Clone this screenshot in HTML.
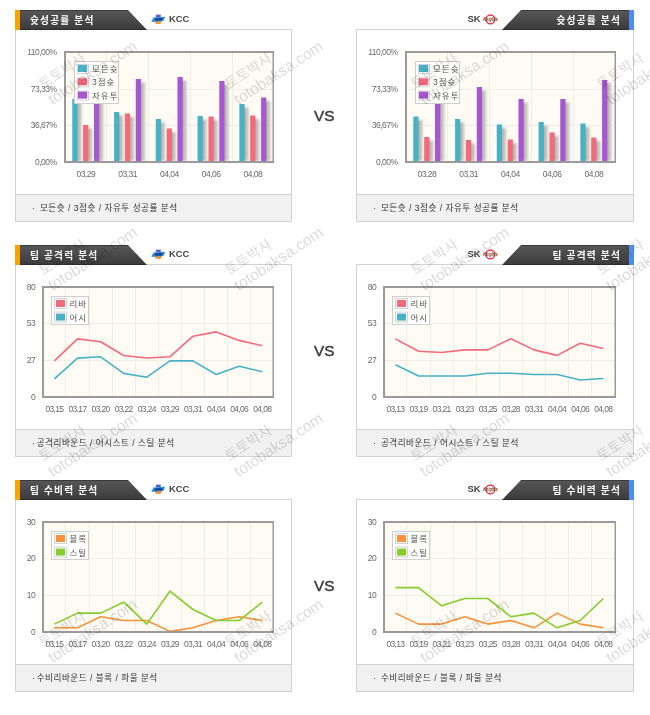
<!DOCTYPE html>
<html lang="ko"><head><meta charset="utf-8"><title>Team analysis</title>
<style>
*{margin:0;padding:0;box-sizing:border-box}
html,body{width:650px;height:715px;overflow:hidden;background:#fff}
body{position:relative;font-family:"Liberation Sans", "Noto Sans CJK KR", sans-serif}
.panel{position:absolute;height:193px;border:1px solid #d2d2d2;background:#fff}
.foot{position:absolute;height:28px;border:1px solid #d2d2d2;background:#f1f1f1}
.foot span{position:absolute;top:6px;font-size:8.6px;color:#333;white-space:nowrap;line-height:14px;letter-spacing:0.5px}
.tab{position:absolute;height:20px;background:linear-gradient(#3a3a3a 0,#3a3a3a 1px,#565656 1px,#3c3c3c 19px,#2c2c2c 19px)}
.stripe{position:absolute;width:5px;height:20px}
.ttl{position:absolute;height:20px;line-height:22px;color:#fff;font-weight:bold;font-size:9.7px;white-space:nowrap;letter-spacing:1.2px}
.team{position:absolute;font-family:"Liberation Sans", sans-serif;font-weight:bold;font-size:9.4px;color:#454545;line-height:12px}
.vs{position:absolute;font-family:"Liberation Sans", sans-serif;font-size:15.3px;color:#3a3a3a;line-height:17px;-webkit-text-stroke:0.45px #3a3a3a}
svg{position:absolute;left:0;top:0}
.ax{font-family:"Liberation Sans", sans-serif;font-size:8.5px;fill:#6a6a6a;letter-spacing:-0.5px}
.ax2{font-family:"Liberation Sans", sans-serif;font-size:8.5px;fill:#6a6a6a;letter-spacing:-0.65px}
.lg{font-family:"Liberation Sans", "Noto Sans CJK KR", sans-serif;font-size:8.5px;fill:#555;letter-spacing:1px}
.wk{font-family:"Liberation Sans", "Noto Sans CJK KR", sans-serif;font-size:14.3px;fill:#000;fill-opacity:0.15}
.wl{font-family:"Liberation Sans", sans-serif;font-size:15.8px;fill:#000;fill-opacity:0.15}
</style></head>
<body>
<div class="panel" style="left:15px;top:29px;width:277px;"></div><div class="foot" style="left:15px;top:194px;width:277px;"><span class="bul" style="left:16px">·</span><span style="left:23.9px">모든슛 / 3점슛 / 자유투 성공률 분석</span></div><div class="panel" style="left:356px;top:29px;width:278px;"></div><div class="foot" style="left:356px;top:194px;width:278px;"><span class="bul" style="left:16px">·</span><span style="left:23.9px">모든슛 / 3점슛 / 자유투 성공률 분석</span></div><div class="tab" style="left:15px;top:10px;clip-path:polygon(0 0,113px 0,132px 100%,0 100%);width:132px"></div><div class="stripe" style="left:15px;top:10px;background:#f8a300"></div><div class="ttl" style="left:30px;top:10px">슛성공률 분석</div><div class="tab" style="left:502px;top:10px;clip-path:polygon(19px 0,100% 0,100% 100%,0 100%);width:132px"></div><div class="stripe" style="left:629px;top:10px;background:#4d8ef2"></div><div class="ttl" style="right:29px;top:10px;text-align:right">슛성공률 분석</div><div class="team" style="left:169px;top:13.3px">KCC</div><div class="team" style="left:467.5px;top:13.3px">SK</div><div class="vs" style="left:314px;top:107.3px">VS</div><div class="panel" style="left:15px;top:264px;width:277px;"></div><div class="foot" style="left:15px;top:429px;width:277px;"><span class="bul" style="left:16px">·</span><span style="left:20.7px">공격리바운드 / 어시스트 / 스틸 분석</span></div><div class="panel" style="left:356px;top:264px;width:278px;"></div><div class="foot" style="left:356px;top:429px;width:278px;"><span class="bul" style="left:16px">·</span><span style="left:23.9px">공격리바운드 / 어시스트 / 스틸 분석</span></div><div class="tab" style="left:15px;top:245px;clip-path:polygon(0 0,113px 0,132px 100%,0 100%);width:132px"></div><div class="stripe" style="left:15px;top:245px;background:#f8a300"></div><div class="ttl" style="left:30px;top:245px">팀 공격력 분석</div><div class="tab" style="left:502px;top:245px;clip-path:polygon(19px 0,100% 0,100% 100%,0 100%);width:132px"></div><div class="stripe" style="left:629px;top:245px;background:#4d8ef2"></div><div class="ttl" style="right:29px;top:245px;text-align:right">팀 공격력 분석</div><div class="team" style="left:169px;top:248.3px">KCC</div><div class="team" style="left:467.5px;top:248.3px">SK</div><div class="vs" style="left:314px;top:342.3px">VS</div><div class="panel" style="left:15px;top:499px;width:277px;"></div><div class="foot" style="left:15px;top:664px;width:277px;"><span class="bul" style="left:16px">·</span><span style="left:20.7px">수비리바운드 / 블록 / 파울 분석</span></div><div class="panel" style="left:356px;top:499px;width:278px;"></div><div class="foot" style="left:356px;top:664px;width:278px;"><span class="bul" style="left:16px">·</span><span style="left:23.9px">수비리바운드 / 블록 / 파울 분석</span></div><div class="tab" style="left:15px;top:480px;clip-path:polygon(0 0,113px 0,132px 100%,0 100%);width:132px"></div><div class="stripe" style="left:15px;top:480px;background:#f8a300"></div><div class="ttl" style="left:30px;top:480px">팀 수비력 분석</div><div class="tab" style="left:502px;top:480px;clip-path:polygon(19px 0,100% 0,100% 100%,0 100%);width:132px"></div><div class="stripe" style="left:629px;top:480px;background:#4d8ef2"></div><div class="ttl" style="right:29px;top:480px;text-align:right">팀 수비력 분석</div><div class="team" style="left:169px;top:483.3px">KCC</div><div class="team" style="left:467.5px;top:483.3px">SK</div><div class="vs" style="left:314px;top:577.3px">VS</div>
<svg width="650" height="715" viewBox="0 0 650 715">
<g transform="translate(0,0)"><ellipse cx="158.3" cy="21.4" rx="3.5" ry="2.6" fill="#f39a3c"/><rect x="155.9" y="14.7" width="5" height="2.7" fill="#5b5ccf" stroke="#c9c9f0" stroke-width="0.4"/><polygon points="151.3,22.0 153.4,17.4 165.3,16.8 163.4,21.0" fill="#2a8fd6"/><polygon points="154.6,20.8 155.3,18.3 162.6,18.0 161.9,20.5" fill="#1c4596"/></g><g transform="translate(0,0)"><circle cx="490.4" cy="19.4" r="4.4" fill="none" stroke="#e8344f" stroke-width="1.5"/><text x="483.3" y="21.4" font-family=""Liberation Sans", sans-serif" font-style="italic" font-weight="bold" font-size="6.2" fill="#6e3c14" textLength="14.5" lengthAdjust="spacingAndGlyphs">Knights</text></g><g transform="translate(0,235)"><ellipse cx="158.3" cy="21.4" rx="3.5" ry="2.6" fill="#f39a3c"/><rect x="155.9" y="14.7" width="5" height="2.7" fill="#5b5ccf" stroke="#c9c9f0" stroke-width="0.4"/><polygon points="151.3,22.0 153.4,17.4 165.3,16.8 163.4,21.0" fill="#2a8fd6"/><polygon points="154.6,20.8 155.3,18.3 162.6,18.0 161.9,20.5" fill="#1c4596"/></g><g transform="translate(0,235)"><circle cx="490.4" cy="19.4" r="4.4" fill="none" stroke="#e8344f" stroke-width="1.5"/><text x="483.3" y="21.4" font-family=""Liberation Sans", sans-serif" font-style="italic" font-weight="bold" font-size="6.2" fill="#6e3c14" textLength="14.5" lengthAdjust="spacingAndGlyphs">Knights</text></g><g transform="translate(0,470)"><ellipse cx="158.3" cy="21.4" rx="3.5" ry="2.6" fill="#f39a3c"/><rect x="155.9" y="14.7" width="5" height="2.7" fill="#5b5ccf" stroke="#c9c9f0" stroke-width="0.4"/><polygon points="151.3,22.0 153.4,17.4 165.3,16.8 163.4,21.0" fill="#2a8fd6"/><polygon points="154.6,20.8 155.3,18.3 162.6,18.0 161.9,20.5" fill="#1c4596"/></g><g transform="translate(0,470)"><circle cx="490.4" cy="19.4" r="4.4" fill="none" stroke="#e8344f" stroke-width="1.5"/><text x="483.3" y="21.4" font-family=""Liberation Sans", sans-serif" font-style="italic" font-weight="bold" font-size="6.2" fill="#6e3c14" textLength="14.5" lengthAdjust="spacingAndGlyphs">Knights</text></g><defs><linearGradient id="sh" x1="0" x2="1" y1="0" y2="0"><stop offset="0" stop-color="#8f8d86"/><stop offset="1" stop-color="#d8d6cf"/></linearGradient><filter id="bl" x="-100%" y="-20%" width="300%" height="140%"><feGaussianBlur stdDeviation="1.1"/></filter></defs><rect x="64" y="51" width="210" height="112" fill="#fdfbf3"/><line x1="106.5" y1="53" x2="106.5" y2="161" stroke="#f0ede4" stroke-width="1"/><line x1="148.5" y1="53" x2="148.5" y2="161" stroke="#f0ede4" stroke-width="1"/><line x1="190.5" y1="53" x2="190.5" y2="161" stroke="#f0ede4" stroke-width="1"/><line x1="232.5" y1="53" x2="232.5" y2="161" stroke="#f0ede4" stroke-width="1"/><line x1="66" y1="89.5" x2="272" y2="89.5" stroke="#f0ede4" stroke-width="1"/><line x1="66" y1="125.5" x2="272" y2="125.5" stroke="#f0ede4" stroke-width="1"/><rect x="73.8" y="102.5" width="8" height="58.5" fill="url(#sh)" filter="url(#bl)"/><rect x="72.3" y="99.0" width="5.2" height="62.0" fill="#48b1c5"/><rect x="84.6" y="128.5" width="8" height="32.5" fill="url(#sh)" filter="url(#bl)"/><rect x="83.1" y="125.0" width="5.2" height="36.0" fill="#f26a7b"/><rect x="95.5" y="78.5" width="8" height="82.5" fill="url(#sh)" filter="url(#bl)"/><rect x="94.0" y="75.0" width="5.2" height="86.0" fill="#a757d1"/><text x="85.8" y="177.2" text-anchor="middle" class="ax">03,29</text><rect x="115.6" y="115.5" width="8" height="45.5" fill="url(#sh)" filter="url(#bl)"/><rect x="114.1" y="112.0" width="5.2" height="49.0" fill="#48b1c5"/><rect x="126.4" y="117.0" width="8" height="44.0" fill="url(#sh)" filter="url(#bl)"/><rect x="124.9" y="113.5" width="5.2" height="47.5" fill="#f26a7b"/><rect x="137.3" y="82.5" width="8" height="78.5" fill="url(#sh)" filter="url(#bl)"/><rect x="135.8" y="79.0" width="5.2" height="82.0" fill="#a757d1"/><text x="127.6" y="177.2" text-anchor="middle" class="ax">03,31</text><rect x="157.3" y="122.5" width="8" height="38.5" fill="url(#sh)" filter="url(#bl)"/><rect x="155.8" y="119.0" width="5.2" height="42.0" fill="#48b1c5"/><rect x="168.2" y="132.0" width="8" height="29.0" fill="url(#sh)" filter="url(#bl)"/><rect x="166.7" y="128.5" width="5.2" height="32.5" fill="#f26a7b"/><rect x="179.0" y="80.5" width="8" height="80.5" fill="url(#sh)" filter="url(#bl)"/><rect x="177.5" y="77.0" width="5.2" height="84.0" fill="#a757d1"/><text x="169.4" y="177.2" text-anchor="middle" class="ax">04,04</text><rect x="199.1" y="119.5" width="8" height="41.5" fill="url(#sh)" filter="url(#bl)"/><rect x="197.6" y="116.0" width="5.2" height="45.0" fill="#48b1c5"/><rect x="210.0" y="120.0" width="8" height="41.0" fill="url(#sh)" filter="url(#bl)"/><rect x="208.5" y="116.5" width="5.2" height="44.5" fill="#f26a7b"/><rect x="220.8" y="84.5" width="8" height="76.5" fill="url(#sh)" filter="url(#bl)"/><rect x="219.3" y="81.0" width="5.2" height="80.0" fill="#a757d1"/><text x="211.1" y="177.2" text-anchor="middle" class="ax">04,06</text><rect x="240.9" y="107.5" width="8" height="53.5" fill="url(#sh)" filter="url(#bl)"/><rect x="239.4" y="104.0" width="5.2" height="57.0" fill="#48b1c5"/><rect x="251.7" y="119.0" width="8" height="42.0" fill="url(#sh)" filter="url(#bl)"/><rect x="250.2" y="115.5" width="5.2" height="45.5" fill="#f26a7b"/><rect x="262.6" y="101.0" width="8" height="60.0" fill="url(#sh)" filter="url(#bl)"/><rect x="261.1" y="97.5" width="5.2" height="63.5" fill="#a757d1"/><text x="252.9" y="177.2" text-anchor="middle" class="ax">04,08</text><path d="M273.25,52 H65 V162 H273.25" fill="none" stroke="#9a9a9a" stroke-width="2"/><line x1="273.25" y1="51" x2="273.25" y2="163" stroke="#9a9a9a" stroke-width="1.5"/><text x="56.6" y="55.4" text-anchor="end" class="ax">110,00%</text><text x="56.6" y="92.2" text-anchor="end" class="ax">73,33%</text><text x="56.6" y="128.1" text-anchor="end" class="ax">36,67%</text><text x="56.6" y="164.70000000000002" text-anchor="end" class="ax">0,00%</text><rect x="74.5" y="61.5" width="44" height="42" fill="#fefefd" stroke="#cfcfcf" stroke-width="1"/><rect x="77.5" y="64.5" width="11" height="9" fill="#fff" stroke="#d3d3d3" stroke-width="1"/><rect x="78" y="65.0" width="9.2" height="7" fill="#48b1c5"/><text x="92" y="72.0" class="lg">모든슛</text><rect x="77.5" y="77.8" width="11" height="9" fill="#fff" stroke="#d3d3d3" stroke-width="1"/><rect x="78" y="78.3" width="9.2" height="7" fill="#f26a7b"/><text x="92" y="85.3" class="lg">3점슛</text><rect x="77.5" y="91.1" width="11" height="9" fill="#fff" stroke="#d3d3d3" stroke-width="1"/><rect x="78" y="91.6" width="9.2" height="7" fill="#a757d1"/><text x="92" y="98.6" class="lg">자유투</text><rect x="405" y="51" width="211" height="112" fill="#fdfbf3"/><line x1="447.5" y1="53" x2="447.5" y2="161" stroke="#f0ede4" stroke-width="1"/><line x1="489.5" y1="53" x2="489.5" y2="161" stroke="#f0ede4" stroke-width="1"/><line x1="531.5" y1="53" x2="531.5" y2="161" stroke="#f0ede4" stroke-width="1"/><line x1="573.5" y1="53" x2="573.5" y2="161" stroke="#f0ede4" stroke-width="1"/><line x1="407" y1="89.5" x2="614" y2="89.5" stroke="#f0ede4" stroke-width="1"/><line x1="407" y1="125.5" x2="614" y2="125.5" stroke="#f0ede4" stroke-width="1"/><rect x="414.8" y="120.0" width="8" height="41.0" fill="url(#sh)" filter="url(#bl)"/><rect x="413.3" y="116.5" width="5.2" height="44.5" fill="#48b1c5"/><rect x="425.7" y="140.5" width="8" height="20.5" fill="url(#sh)" filter="url(#bl)"/><rect x="424.2" y="137.0" width="5.2" height="24.0" fill="#f26a7b"/><rect x="436.5" y="94.5" width="8" height="66.5" fill="url(#sh)" filter="url(#bl)"/><rect x="435.0" y="91.0" width="5.2" height="70.0" fill="#a757d1"/><text x="426.8" y="177.2" text-anchor="middle" class="ax">03,28</text><rect x="456.6" y="122.5" width="8" height="38.5" fill="url(#sh)" filter="url(#bl)"/><rect x="455.1" y="119.0" width="5.2" height="42.0" fill="#48b1c5"/><rect x="467.4" y="143.5" width="8" height="17.5" fill="url(#sh)" filter="url(#bl)"/><rect x="465.9" y="140.0" width="5.2" height="21.0" fill="#f26a7b"/><rect x="478.3" y="90.5" width="8" height="70.5" fill="url(#sh)" filter="url(#bl)"/><rect x="476.8" y="87.0" width="5.2" height="74.0" fill="#a757d1"/><text x="468.6" y="177.2" text-anchor="middle" class="ax">03,31</text><rect x="498.3" y="128.0" width="8" height="33.0" fill="url(#sh)" filter="url(#bl)"/><rect x="496.8" y="124.5" width="5.2" height="36.5" fill="#48b1c5"/><rect x="509.2" y="143.0" width="8" height="18.0" fill="url(#sh)" filter="url(#bl)"/><rect x="507.7" y="139.5" width="5.2" height="21.5" fill="#f26a7b"/><rect x="520.0" y="102.5" width="8" height="58.5" fill="url(#sh)" filter="url(#bl)"/><rect x="518.5" y="99.0" width="5.2" height="62.0" fill="#a757d1"/><text x="510.4" y="177.2" text-anchor="middle" class="ax">04,04</text><rect x="540.1" y="125.5" width="8" height="35.5" fill="url(#sh)" filter="url(#bl)"/><rect x="538.6" y="122.0" width="5.2" height="39.0" fill="#48b1c5"/><rect x="551.0" y="136.0" width="8" height="25.0" fill="url(#sh)" filter="url(#bl)"/><rect x="549.5" y="132.5" width="5.2" height="28.5" fill="#f26a7b"/><rect x="561.8" y="102.5" width="8" height="58.5" fill="url(#sh)" filter="url(#bl)"/><rect x="560.3" y="99.0" width="5.2" height="62.0" fill="#a757d1"/><text x="552.1" y="177.2" text-anchor="middle" class="ax">04,06</text><rect x="581.9" y="127.0" width="8" height="34.0" fill="url(#sh)" filter="url(#bl)"/><rect x="580.4" y="123.5" width="5.2" height="37.5" fill="#48b1c5"/><rect x="592.7" y="141.0" width="8" height="20.0" fill="url(#sh)" filter="url(#bl)"/><rect x="591.2" y="137.5" width="5.2" height="23.5" fill="#f26a7b"/><rect x="603.6" y="83.5" width="8" height="77.5" fill="url(#sh)" filter="url(#bl)"/><rect x="602.1" y="80.0" width="5.2" height="81.0" fill="#a757d1"/><text x="593.9" y="177.2" text-anchor="middle" class="ax">04,08</text><path d="M615.25,52 H406 V162 H615.25" fill="none" stroke="#9a9a9a" stroke-width="2"/><line x1="615.25" y1="51" x2="615.25" y2="163" stroke="#9a9a9a" stroke-width="1.5"/><text x="397.6" y="55.4" text-anchor="end" class="ax">110,00%</text><text x="397.6" y="92.2" text-anchor="end" class="ax">73,33%</text><text x="397.6" y="128.1" text-anchor="end" class="ax">36,67%</text><text x="397.6" y="164.70000000000002" text-anchor="end" class="ax">0,00%</text><rect x="415.5" y="61.5" width="44" height="42" fill="#fefefd" stroke="#cfcfcf" stroke-width="1"/><rect x="418.5" y="64.5" width="11" height="9" fill="#fff" stroke="#d3d3d3" stroke-width="1"/><rect x="419" y="65.0" width="9.2" height="7" fill="#48b1c5"/><text x="433" y="72.0" class="lg">모든슛</text><rect x="418.5" y="77.8" width="11" height="9" fill="#fff" stroke="#d3d3d3" stroke-width="1"/><rect x="419" y="78.3" width="9.2" height="7" fill="#f26a7b"/><text x="433" y="85.3" class="lg">3점슛</text><rect x="418.5" y="91.1" width="11" height="9" fill="#fff" stroke="#d3d3d3" stroke-width="1"/><rect x="419" y="91.6" width="9.2" height="7" fill="#a757d1"/><text x="433" y="98.6" class="lg">자유투</text><rect x="42" y="286" width="232" height="112" fill="#fdfbf3"/><line x1="65.5" y1="288" x2="65.5" y2="396" stroke="#f0ede4" stroke-width="1"/><line x1="89.5" y1="288" x2="89.5" y2="396" stroke="#f0ede4" stroke-width="1"/><line x1="112.5" y1="288" x2="112.5" y2="396" stroke="#f0ede4" stroke-width="1"/><line x1="135.5" y1="288" x2="135.5" y2="396" stroke="#f0ede4" stroke-width="1"/><line x1="158.5" y1="288" x2="158.5" y2="396" stroke="#f0ede4" stroke-width="1"/><line x1="181.5" y1="288" x2="181.5" y2="396" stroke="#f0ede4" stroke-width="1"/><line x1="204.5" y1="288" x2="204.5" y2="396" stroke="#f0ede4" stroke-width="1"/><line x1="227.5" y1="288" x2="227.5" y2="396" stroke="#f0ede4" stroke-width="1"/><line x1="250.5" y1="288" x2="250.5" y2="396" stroke="#f0ede4" stroke-width="1"/><line x1="44" y1="323.5" x2="272" y2="323.5" stroke="#f0ede4" stroke-width="1"/><line x1="44" y1="360.5" x2="272" y2="360.5" stroke="#f0ede4" stroke-width="1"/><polyline points="54.4,360.9 77.5,338.9 100.6,341.7 123.7,355.5 146.8,358.0 169.9,356.8 193.0,336.2 216.1,331.9 239.2,340.4 262.3,345.7" fill="none" stroke="#f26a7b" stroke-width="1.6" stroke-linejoin="round"/><polyline points="54.4,378.8 77.5,358.1 100.6,356.8 123.7,373.4 146.8,377.2 169.9,360.9 193.0,360.9 216.1,374.5 239.2,366.2 262.3,371.8" fill="none" stroke="#48b1c5" stroke-width="1.6" stroke-linejoin="round"/><text x="54.4" y="412.3" text-anchor="middle" class="ax2">03,15</text><text x="77.5" y="412.3" text-anchor="middle" class="ax2">03,17</text><text x="100.6" y="412.3" text-anchor="middle" class="ax2">03,20</text><text x="123.7" y="412.3" text-anchor="middle" class="ax2">03,22</text><text x="146.8" y="412.3" text-anchor="middle" class="ax2">03,24</text><text x="169.9" y="412.3" text-anchor="middle" class="ax2">03,29</text><text x="193.0" y="412.3" text-anchor="middle" class="ax2">03,31</text><text x="216.1" y="412.3" text-anchor="middle" class="ax2">04,04</text><text x="239.2" y="412.3" text-anchor="middle" class="ax2">04,06</text><text x="262.3" y="412.3" text-anchor="middle" class="ax2">04,08</text><path d="M273.25,287 H43 V397 H273.25" fill="none" stroke="#9a9a9a" stroke-width="2"/><line x1="273.25" y1="286" x2="273.25" y2="398" stroke="#9a9a9a" stroke-width="1.5"/><text x="35.2" y="289.9" text-anchor="end" class="ax">80</text><text x="35.2" y="326.4" text-anchor="end" class="ax">53</text><text x="35.2" y="362.9" text-anchor="end" class="ax">27</text><text x="35.2" y="399.5" text-anchor="end" class="ax">0</text><rect x="51.5" y="296.5" width="37" height="28" fill="#fefefd" stroke="#cfcfcf" stroke-width="1"/><rect x="54.5" y="298.5" width="12" height="10" fill="#fff" stroke="#d3d3d3" stroke-width="1"/><rect x="56" y="300.0" width="9" height="7" fill="#f26a7b"/><text x="69.5" y="307.0" class="lg">리바</text><rect x="54.5" y="312.1" width="12" height="10" fill="#fff" stroke="#d3d3d3" stroke-width="1"/><rect x="56" y="313.6" width="9" height="7" fill="#48b1c5"/><text x="69.5" y="320.6" class="lg">어시</text><rect x="383" y="286" width="233" height="112" fill="#fdfbf3"/><line x1="406.5" y1="288" x2="406.5" y2="396" stroke="#f0ede4" stroke-width="1"/><line x1="430.5" y1="288" x2="430.5" y2="396" stroke="#f0ede4" stroke-width="1"/><line x1="453.5" y1="288" x2="453.5" y2="396" stroke="#f0ede4" stroke-width="1"/><line x1="476.5" y1="288" x2="476.5" y2="396" stroke="#f0ede4" stroke-width="1"/><line x1="499.5" y1="288" x2="499.5" y2="396" stroke="#f0ede4" stroke-width="1"/><line x1="522.5" y1="288" x2="522.5" y2="396" stroke="#f0ede4" stroke-width="1"/><line x1="545.5" y1="288" x2="545.5" y2="396" stroke="#f0ede4" stroke-width="1"/><line x1="568.5" y1="288" x2="568.5" y2="396" stroke="#f0ede4" stroke-width="1"/><line x1="591.5" y1="288" x2="591.5" y2="396" stroke="#f0ede4" stroke-width="1"/><line x1="385" y1="323.5" x2="614" y2="323.5" stroke="#f0ede4" stroke-width="1"/><line x1="385" y1="360.5" x2="614" y2="360.5" stroke="#f0ede4" stroke-width="1"/><polyline points="395.4,338.9 418.5,351.2 441.6,352.5 464.7,349.9 487.8,349.9 510.9,338.8 534.0,349.9 557.1,355.4 580.2,343.2 603.3,348.5" fill="none" stroke="#f26a7b" stroke-width="1.6" stroke-linejoin="round"/><polyline points="395.4,364.8 418.5,376.0 441.6,376.0 464.7,376.0 487.8,373.2 510.9,373.2 534.0,374.5 557.1,374.5 580.2,380.0 603.3,378.5" fill="none" stroke="#48b1c5" stroke-width="1.6" stroke-linejoin="round"/><text x="395.4" y="412.3" text-anchor="middle" class="ax2">03,13</text><text x="418.5" y="412.3" text-anchor="middle" class="ax2">03,19</text><text x="441.6" y="412.3" text-anchor="middle" class="ax2">03,21</text><text x="464.7" y="412.3" text-anchor="middle" class="ax2">03,23</text><text x="487.8" y="412.3" text-anchor="middle" class="ax2">03,25</text><text x="510.9" y="412.3" text-anchor="middle" class="ax2">03,28</text><text x="534.0" y="412.3" text-anchor="middle" class="ax2">03,31</text><text x="557.1" y="412.3" text-anchor="middle" class="ax2">04,04</text><text x="580.2" y="412.3" text-anchor="middle" class="ax2">04,06</text><text x="603.3" y="412.3" text-anchor="middle" class="ax2">04,08</text><path d="M615.25,287 H384 V397 H615.25" fill="none" stroke="#9a9a9a" stroke-width="2"/><line x1="615.25" y1="286" x2="615.25" y2="398" stroke="#9a9a9a" stroke-width="1.5"/><text x="376.2" y="289.9" text-anchor="end" class="ax">80</text><text x="376.2" y="326.4" text-anchor="end" class="ax">53</text><text x="376.2" y="362.9" text-anchor="end" class="ax">27</text><text x="376.2" y="399.5" text-anchor="end" class="ax">0</text><rect x="392.5" y="296.5" width="37" height="28" fill="#fefefd" stroke="#cfcfcf" stroke-width="1"/><rect x="395.5" y="298.5" width="12" height="10" fill="#fff" stroke="#d3d3d3" stroke-width="1"/><rect x="397" y="300.0" width="9" height="7" fill="#f26a7b"/><text x="410.5" y="307.0" class="lg">리바</text><rect x="395.5" y="312.1" width="12" height="10" fill="#fff" stroke="#d3d3d3" stroke-width="1"/><rect x="397" y="313.6" width="9" height="7" fill="#48b1c5"/><text x="410.5" y="320.6" class="lg">어시</text><rect x="42" y="521" width="232" height="112" fill="#fdfbf3"/><line x1="65.5" y1="523" x2="65.5" y2="631" stroke="#f0ede4" stroke-width="1"/><line x1="89.5" y1="523" x2="89.5" y2="631" stroke="#f0ede4" stroke-width="1"/><line x1="112.5" y1="523" x2="112.5" y2="631" stroke="#f0ede4" stroke-width="1"/><line x1="135.5" y1="523" x2="135.5" y2="631" stroke="#f0ede4" stroke-width="1"/><line x1="158.5" y1="523" x2="158.5" y2="631" stroke="#f0ede4" stroke-width="1"/><line x1="181.5" y1="523" x2="181.5" y2="631" stroke="#f0ede4" stroke-width="1"/><line x1="204.5" y1="523" x2="204.5" y2="631" stroke="#f0ede4" stroke-width="1"/><line x1="227.5" y1="523" x2="227.5" y2="631" stroke="#f0ede4" stroke-width="1"/><line x1="250.5" y1="523" x2="250.5" y2="631" stroke="#f0ede4" stroke-width="1"/><line x1="44" y1="558.5" x2="272" y2="558.5" stroke="#f0ede4" stroke-width="1"/><line x1="44" y1="595.5" x2="272" y2="595.5" stroke="#f0ede4" stroke-width="1"/><polyline points="54.4,627.8 77.5,627.8 100.6,616.8 123.7,620.5 146.8,620.5 169.9,631.4 193.0,627.8 216.1,620.5 239.2,616.8 262.3,620.5" fill="none" stroke="#f7923a" stroke-width="1.6" stroke-linejoin="round"/><polyline points="54.4,624.1 77.5,613.1 100.6,613.1 123.7,602.2 146.8,624.1 169.9,591.2 193.0,609.5 216.1,620.5 239.2,620.5 262.3,602.2" fill="none" stroke="#86cc2a" stroke-width="1.6" stroke-linejoin="round"/><text x="54.4" y="647.3" text-anchor="middle" class="ax2">03,15</text><text x="77.5" y="647.3" text-anchor="middle" class="ax2">03,17</text><text x="100.6" y="647.3" text-anchor="middle" class="ax2">03,20</text><text x="123.7" y="647.3" text-anchor="middle" class="ax2">03,22</text><text x="146.8" y="647.3" text-anchor="middle" class="ax2">03,24</text><text x="169.9" y="647.3" text-anchor="middle" class="ax2">03,29</text><text x="193.0" y="647.3" text-anchor="middle" class="ax2">03,31</text><text x="216.1" y="647.3" text-anchor="middle" class="ax2">04,04</text><text x="239.2" y="647.3" text-anchor="middle" class="ax2">04,06</text><text x="262.3" y="647.3" text-anchor="middle" class="ax2">04,08</text><path d="M273.25,522 H43 V632 H273.25" fill="none" stroke="#9a9a9a" stroke-width="2"/><line x1="273.25" y1="521" x2="273.25" y2="633" stroke="#9a9a9a" stroke-width="1.5"/><text x="35.2" y="524.9" text-anchor="end" class="ax">30</text><text x="35.2" y="561.4" text-anchor="end" class="ax">20</text><text x="35.2" y="597.9" text-anchor="end" class="ax">10</text><text x="35.2" y="634.5" text-anchor="end" class="ax">0</text><rect x="51.5" y="531.5" width="37" height="28" fill="#fefefd" stroke="#cfcfcf" stroke-width="1"/><rect x="54.5" y="533.5" width="12" height="10" fill="#fff" stroke="#d3d3d3" stroke-width="1"/><rect x="56" y="535.0" width="9" height="7" fill="#f7923a"/><text x="69.5" y="542.0" class="lg">블록</text><rect x="54.5" y="547.1" width="12" height="10" fill="#fff" stroke="#d3d3d3" stroke-width="1"/><rect x="56" y="548.6" width="9" height="7" fill="#86cc2a"/><text x="69.5" y="555.6" class="lg">스틸</text><rect x="383" y="521" width="233" height="112" fill="#fdfbf3"/><line x1="406.5" y1="523" x2="406.5" y2="631" stroke="#f0ede4" stroke-width="1"/><line x1="430.5" y1="523" x2="430.5" y2="631" stroke="#f0ede4" stroke-width="1"/><line x1="453.5" y1="523" x2="453.5" y2="631" stroke="#f0ede4" stroke-width="1"/><line x1="476.5" y1="523" x2="476.5" y2="631" stroke="#f0ede4" stroke-width="1"/><line x1="499.5" y1="523" x2="499.5" y2="631" stroke="#f0ede4" stroke-width="1"/><line x1="522.5" y1="523" x2="522.5" y2="631" stroke="#f0ede4" stroke-width="1"/><line x1="545.5" y1="523" x2="545.5" y2="631" stroke="#f0ede4" stroke-width="1"/><line x1="568.5" y1="523" x2="568.5" y2="631" stroke="#f0ede4" stroke-width="1"/><line x1="591.5" y1="523" x2="591.5" y2="631" stroke="#f0ede4" stroke-width="1"/><line x1="385" y1="558.5" x2="614" y2="558.5" stroke="#f0ede4" stroke-width="1"/><line x1="385" y1="595.5" x2="614" y2="595.5" stroke="#f0ede4" stroke-width="1"/><polyline points="395.4,613.1 418.5,624.1 441.6,624.1 464.7,616.8 487.8,624.1 510.9,620.5 534.0,627.8 557.1,613.1 580.2,624.1 603.3,627.8" fill="none" stroke="#f7923a" stroke-width="1.6" stroke-linejoin="round"/><polyline points="395.4,587.6 418.5,587.6 441.6,605.8 464.7,598.5 487.8,598.5 510.9,616.8 534.0,613.1 557.1,627.8 580.2,620.5 603.3,598.5" fill="none" stroke="#86cc2a" stroke-width="1.6" stroke-linejoin="round"/><text x="395.4" y="647.3" text-anchor="middle" class="ax2">03,13</text><text x="418.5" y="647.3" text-anchor="middle" class="ax2">03,19</text><text x="441.6" y="647.3" text-anchor="middle" class="ax2">03,21</text><text x="464.7" y="647.3" text-anchor="middle" class="ax2">03,23</text><text x="487.8" y="647.3" text-anchor="middle" class="ax2">03,25</text><text x="510.9" y="647.3" text-anchor="middle" class="ax2">03,28</text><text x="534.0" y="647.3" text-anchor="middle" class="ax2">03,31</text><text x="557.1" y="647.3" text-anchor="middle" class="ax2">04,04</text><text x="580.2" y="647.3" text-anchor="middle" class="ax2">04,06</text><text x="603.3" y="647.3" text-anchor="middle" class="ax2">04,08</text><path d="M615.25,522 H384 V632 H615.25" fill="none" stroke="#9a9a9a" stroke-width="2"/><line x1="615.25" y1="521" x2="615.25" y2="633" stroke="#9a9a9a" stroke-width="1.5"/><text x="376.2" y="524.9" text-anchor="end" class="ax">30</text><text x="376.2" y="561.4" text-anchor="end" class="ax">20</text><text x="376.2" y="597.9" text-anchor="end" class="ax">10</text><text x="376.2" y="634.5" text-anchor="end" class="ax">0</text><rect x="392.5" y="531.5" width="37" height="28" fill="#fefefd" stroke="#cfcfcf" stroke-width="1"/><rect x="395.5" y="533.5" width="12" height="10" fill="#fff" stroke="#d3d3d3" stroke-width="1"/><rect x="397" y="535.0" width="9" height="7" fill="#f7923a"/><text x="410.5" y="542.0" class="lg">블록</text><rect x="395.5" y="547.1" width="12" height="10" fill="#fff" stroke="#d3d3d3" stroke-width="1"/><rect x="397" y="548.6" width="9" height="7" fill="#86cc2a"/><text x="410.5" y="555.6" class="lg">스틸</text>
<g transform="translate(48.5,102.0) rotate(-33.3)"><text x="2.2" y="-13.2" class="wk">토토박사</text><text x="1.5" y="5" class="wl">totobaksa.com</text></g><g transform="translate(48.5,288.0) rotate(-33.3)"><text x="2.2" y="-13.2" class="wk">토토박사</text><text x="1.5" y="5" class="wl">totobaksa.com</text></g><g transform="translate(48.5,474.0) rotate(-33.3)"><text x="2.2" y="-13.2" class="wk">토토박사</text><text x="1.5" y="5" class="wl">totobaksa.com</text></g><g transform="translate(48.5,660.0) rotate(-33.3)"><text x="2.2" y="-13.2" class="wk">토토박사</text><text x="1.5" y="5" class="wl">totobaksa.com</text></g><g transform="translate(234.5,102.0) rotate(-33.3)"><text x="2.2" y="-13.2" class="wk">토토박사</text><text x="1.5" y="5" class="wl">totobaksa.com</text></g><g transform="translate(234.5,288.0) rotate(-33.3)"><text x="2.2" y="-13.2" class="wk">토토박사</text><text x="1.5" y="5" class="wl">totobaksa.com</text></g><g transform="translate(234.5,474.0) rotate(-33.3)"><text x="2.2" y="-13.2" class="wk">토토박사</text><text x="1.5" y="5" class="wl">totobaksa.com</text></g><g transform="translate(234.5,660.0) rotate(-33.3)"><text x="2.2" y="-13.2" class="wk">토토박사</text><text x="1.5" y="5" class="wl">totobaksa.com</text></g><g transform="translate(420.5,102.0) rotate(-33.3)"><text x="2.2" y="-13.2" class="wk">토토박사</text><text x="1.5" y="5" class="wl">totobaksa.com</text></g><g transform="translate(420.5,288.0) rotate(-33.3)"><text x="2.2" y="-13.2" class="wk">토토박사</text><text x="1.5" y="5" class="wl">totobaksa.com</text></g><g transform="translate(420.5,474.0) rotate(-33.3)"><text x="2.2" y="-13.2" class="wk">토토박사</text><text x="1.5" y="5" class="wl">totobaksa.com</text></g><g transform="translate(420.5,660.0) rotate(-33.3)"><text x="2.2" y="-13.2" class="wk">토토박사</text><text x="1.5" y="5" class="wl">totobaksa.com</text></g><g transform="translate(606.5,102.0) rotate(-33.3)"><text x="2.2" y="-13.2" class="wk">토토박사</text><text x="1.5" y="5" class="wl">totobaksa.com</text></g><g transform="translate(606.5,288.0) rotate(-33.3)"><text x="2.2" y="-13.2" class="wk">토토박사</text><text x="1.5" y="5" class="wl">totobaksa.com</text></g><g transform="translate(606.5,474.0) rotate(-33.3)"><text x="2.2" y="-13.2" class="wk">토토박사</text><text x="1.5" y="5" class="wl">totobaksa.com</text></g><g transform="translate(606.5,660.0) rotate(-33.3)"><text x="2.2" y="-13.2" class="wk">토토박사</text><text x="1.5" y="5" class="wl">totobaksa.com</text></g>
</svg>
</body></html>
